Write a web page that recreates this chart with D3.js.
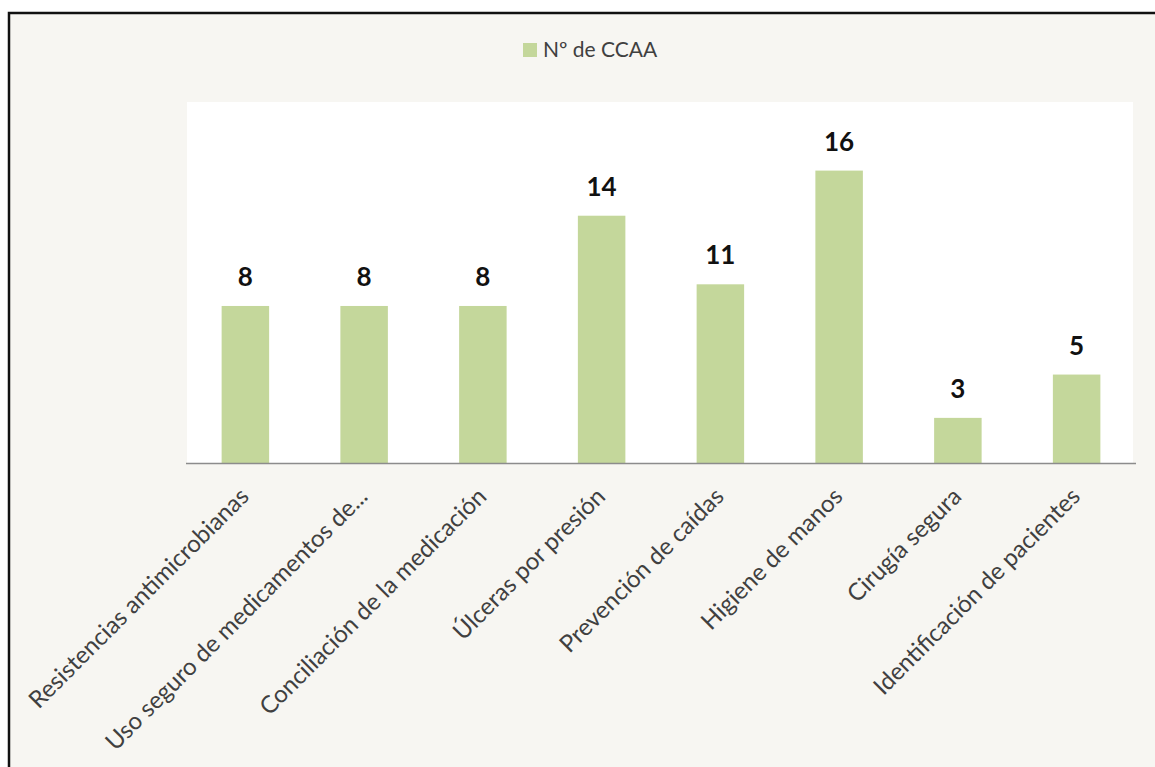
<!DOCTYPE html>
<meta charset="utf-8">
<head>
<style>
body{
	margin:0;
	background:#fff;
}
text{
	font-family:Lato, "Open Sans", sans-serif;
}
.axisLabel{
	font-size:24px;
	fill:#404040;
}
.value{
	font-size:26px;
	font-weight:bold;
	fill:#111;
	text-anchor:middle;
}
.legend{
	font-size:21px;
	fill:#404040;
}
</style>
</head>
<body>
<script src="https://d3js.org/d3.v7.min.js"></script>
<script>

var categories=['Resistencias antimicrobianas','Uso seguro de medicamentos de...','Conciliación de la medicación',
	'Úlceras por presión','Prevención de caídas','Higiene de manos','Cirugía segura','Identificación de pacientes'];
// bar heights as drawn in the picture (axis units)
var values=[8.7,8.7,8.7,13.7,9.9,16.2,2.5,4.9];
// numbers printed above the bars
var labels=[8,8,8,14,11,16,3,5];
var seriesName='Nº de CCAA';

var W=1155,H=767;
var plot={left:186,right:1136,top:102,bottom:463};

var svg=d3.select("body").append("svg").attr("width",W).attr("height",H);

svg.append("rect").attr("x",9).attr("y",13).attr("width",1300).attr("height",900)
	.attr("fill","#f7f6f2").attr("stroke","#111").attr("stroke-width",2.5);

svg.append("rect").attr("x",plot.left+1).attr("y",plot.top)
	.attr("width",1133-plot.left-1).attr("height",plot.bottom-plot.top)
	.attr("fill","#fff");

var x=d3.scaleBand().domain(categories).range([plot.left,plot.right])
	.paddingInner(0.6).paddingOuter(0.3);
var y=d3.scaleLinear().domain([0,20]).range([plot.bottom,plot.top]);

svg.selectAll(".bar").data(values).enter().append("rect").attr("class","bar")
	.attr("x",(d,i)=>x(categories[i]))
	.attr("y",d=>y(d))
	.attr("width",x.bandwidth())
	.attr("height",d=>y(0)-y(d))
	.attr("fill","#c4d79b");

svg.selectAll(".value").data(values).enter().append("text").attr("class","value")
	.attr("x",(d,i)=>x(categories[i])+x.bandwidth()/2)
	.attr("y",d=>y(d)-20)
	.text((d,i)=>labels[i]);

svg.append("line").attr("x1",plot.left).attr("x2",plot.right)
	.attr("y1",plot.bottom+0.5).attr("y2",plot.bottom+0.5)
	.attr("stroke","#8c8c8c").attr("stroke-width",1.5);

svg.selectAll(".axisLabel").data(categories).enter().append("text").attr("class","axisLabel")
	.attr("text-anchor","end")
	.attr("transform",d=>"translate("+(x(d)+x.bandwidth()/2+5)+","+(plot.bottom+35)+") rotate(-45)")
	.text(d=>d);

// legend
svg.append("rect").attr("x",523).attr("y",43).attr("width",14).attr("height",14).attr("fill","#c4d79b");
svg.append("text").attr("class","legend").attr("x",543).attr("y",57).text(seriesName);

</script>
</body>
</html>
